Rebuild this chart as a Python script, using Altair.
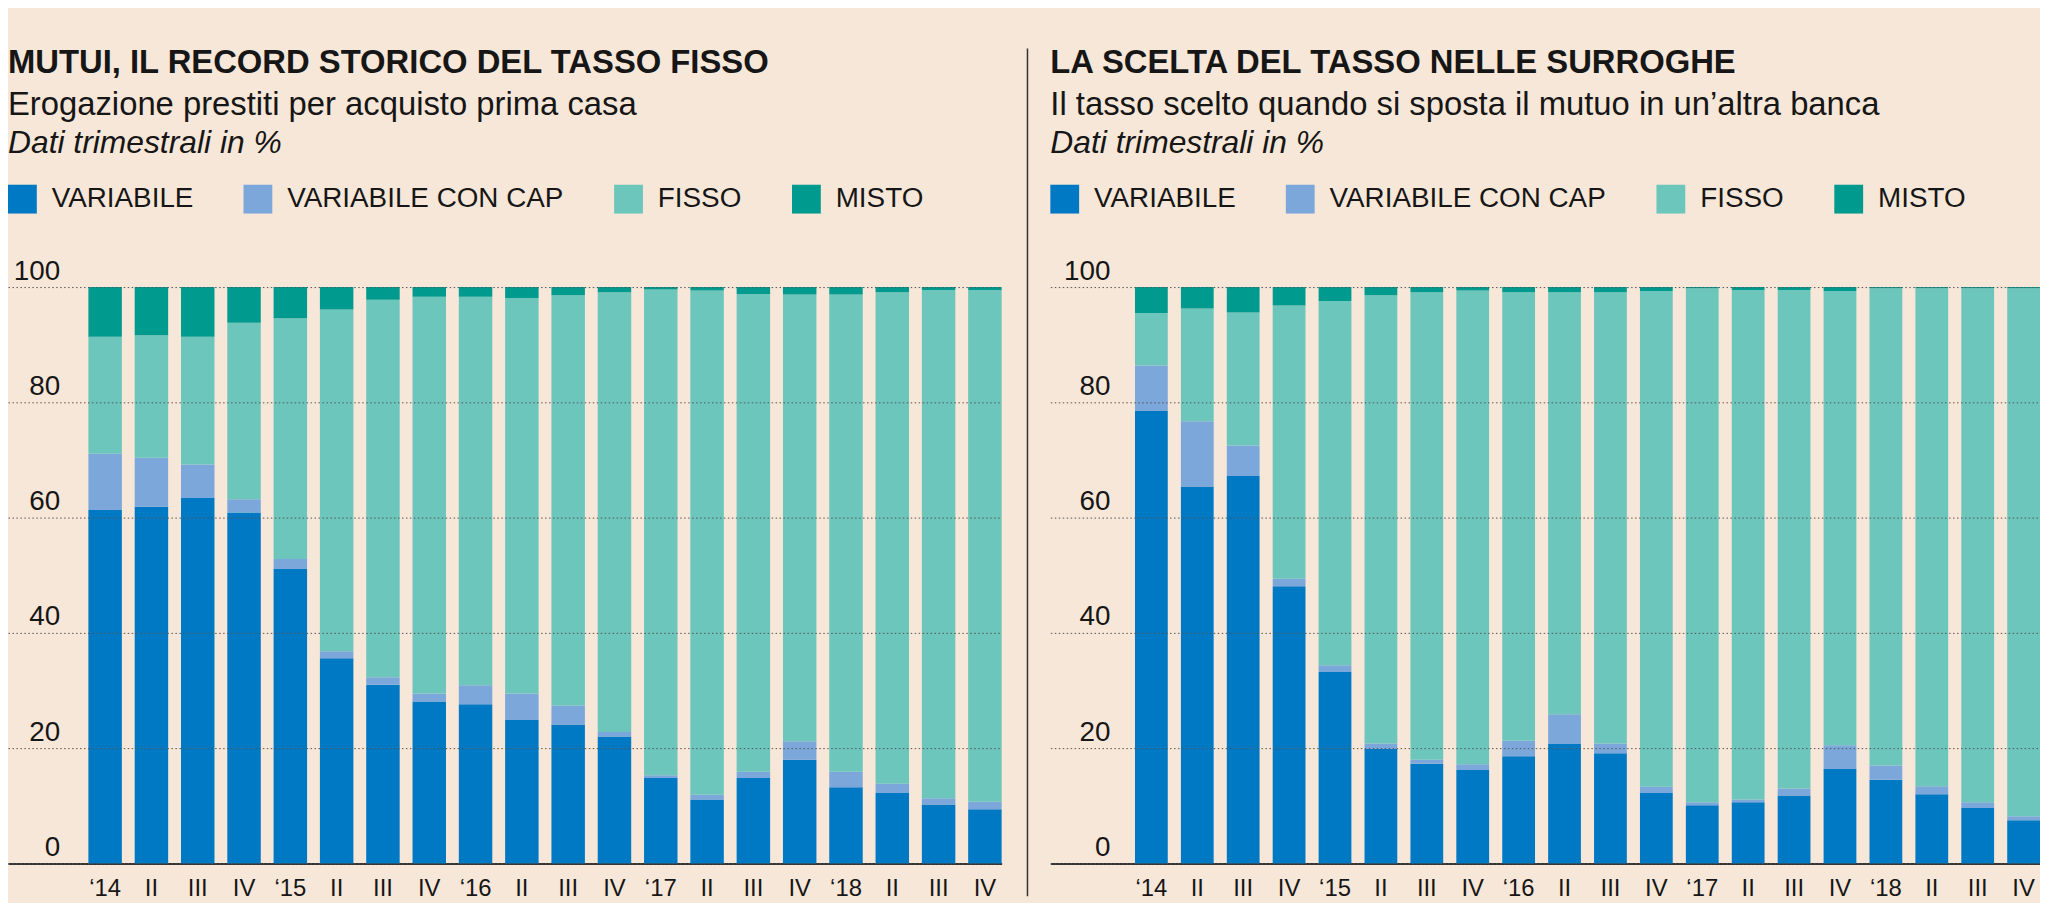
import altair as alt
import pandas as pd

# ---------------- data ----------------
periods = ["2014-I", "2014-II", "2014-III", "2014-IV",
           "2015-I", "2015-II", "2015-III", "2015-IV",
           "2016-I", "2016-II", "2016-III", "2016-IV",
           "2017-I", "2017-II", "2017-III", "2017-IV",
           "2018-I", "2018-II", "2018-III", "2018-IV"]
tick_labels = ["‘14", "II", "III", "IV", "‘15", "II", "III", "IV",
               "‘16", "II", "III", "IV", "‘17", "II", "III", "IV",
               "‘18", "II", "III", "IV"]

series = ["VARIABILE", "VARIABILE CON CAP", "FISSO", "MISTO"]
colors = ["#0079C4", "#7CA7DB", "#6CC6BC", "#009A8F"]

# Left panel: erogazione prestiti prima casa
mutui_variabile = [61.3, 61.9, 63.4, 60.9, 51.1, 35.6, 31.0, 28.1, 27.6, 24.9,
                   24.1, 22.0, 14.8, 11.1, 14.8, 18.0, 13.2, 12.2, 10.2, 9.4]
mutui_cap = [9.8, 8.5, 5.8, 2.3, 1.7, 1.2, 1.3, 1.4, 3.3, 4.6,
             3.3, 0.8, 0.5, 0.8, 1.1, 3.2, 2.7, 1.6, 1.1, 1.3]
mutui_fisso = [20.3, 21.25, 22.2, 30.6, 41.8, 59.3, 65.5, 68.8, 67.4, 68.6,
               71.2, 76.3, 84.3, 87.5, 82.9, 77.5, 82.8, 85.3, 88.2, 88.8]
mutui_misto = [8.6, 8.35, 8.6, 6.2, 5.4, 3.9, 2.2, 1.7, 1.7, 1.9,
               1.4, 0.9, 0.4, 0.6, 1.2, 1.3, 1.3, 0.9, 0.5, 0.5]

# Right panel: surroghe
surr_variabile = [78.6, 65.4, 67.2, 48.1, 33.2, 19.9, 17.3, 16.2, 18.6, 20.7,
                  19.1, 12.2, 10.1, 10.6, 11.8, 16.4, 14.5, 12.0, 9.6, 7.5]
surr_cap = [7.8, 11.3, 5.3, 1.3, 1.2, 0.9, 0.7, 1.0, 2.7, 5.2,
            1.7, 1.1, 0.5, 0.5, 1.2, 4.1, 2.5, 1.4, 1.0, 0.7]
surr_fisso = [9.1, 19.6, 23.1, 47.4, 63.2, 77.8, 81.1, 82.2, 77.8, 73.2,
              78.3, 86.0, 89.2, 88.4, 86.5, 78.8, 82.8, 86.4, 89.2, 91.6]
surr_misto = [4.5, 3.7, 4.4, 3.2, 2.4, 1.4, 0.9, 0.6, 0.9, 0.9,
              0.9, 0.7, 0.2, 0.5, 0.5, 0.7, 0.2, 0.2, 0.2, 0.2]


def long_df(var, cap, fix, mix):
    rows = []
    for i, p in enumerate(periods):
        for k, (name, vals) in enumerate(zip(series, [var, cap, fix, mix])):
            rows.append({"periodo": p, "tipo": name, "valore": vals[i], "ordine": k})
    return pd.DataFrame(rows)


df_mutui = long_df(mutui_variabile, mutui_cap, mutui_fisso, mutui_misto)
df_surr = long_df(surr_variabile, surr_cap, surr_fisso, surr_misto)

FONT = "Liberation Sans"
TXT = "#161616"

label_expr = ("[" + ",".join(f"'{t}'" for t in tick_labels) + "][indexof(["
              + ",".join(f"'{p}'" for p in periods) + "], datum.value)]")


def panel(df, title, subtitle, width, pad_inner, pad_outer, ylabel_pad):
    bars = alt.Chart(df).mark_bar().encode(
        x=alt.X("periodo:N",
                scale=alt.Scale(domain=periods, paddingInner=pad_inner,
                                paddingOuter=pad_outer, align=1, round=False),
                axis=alt.Axis(title=None, labelExpr=label_expr, labelAngle=0,
                              labelFont=FONT, labelFontSize=24, labelColor=TXT,
                              labelBaseline="alphabetic", labelPadding=32,
                              ticks=False, domain=True, domainColor="#333333",
                              domainWidth=2, grid=False, labelOverlap=False)),
        y=alt.Y("valore:Q", stack="zero",
                scale=alt.Scale(domain=[0, 100], nice=False),
                axis=alt.Axis(title=None, values=[0, 20, 40, 60, 80, 100],
                              domain=False, ticks=False, grid=True,
                              gridColor="#555555", gridDash=[1.5, 2.5], gridWidth=1,
                              labelFont=FONT, labelFontSize=28, labelColor=TXT,
                              labelAlign="right", labelBaseline="alphabetic",
                              labelPadding=ylabel_pad, labelOffset=-8, zindex=1)),
        color=alt.Color("tipo:N",
                        scale=alt.Scale(domain=series, range=colors),
                        legend=alt.Legend(orient="none", legendX=0, legendY=-160,
                                          direction="horizontal",
                                          title="Dati trimestrali in %",
                                          titleFont=FONT, titleFontSize=32,
                                          titleFontStyle="italic",
                                          titleFontWeight="normal",
                                          titleColor=TXT, titlePadding=25,
                                          titleLimit=800,
                                          symbolType="square", symbolSize=841,
                                          symbolStrokeWidth=0, symbolOpacity=1,
                                          labelFont=FONT, labelFontSize=28,
                                          labelColor=TXT, labelOffset=15,
                                          labelLimit=600, columnPadding=50)),
        order=alt.Order("ordine:Q", sort="ascending"),
    )
    return bars.properties(
        width=width, height=580,
        title=alt.TitleParams(text=title, subtitle=subtitle, anchor="start",
                              frame="group", orient="top",
                              font=FONT, fontSize=33, fontWeight="bold", color=TXT,
                              subtitleFont=FONT, subtitleFontSize=33,
                              subtitleColor=TXT, subtitlePadding=9, offset=6),
    )


left = panel(df_mutui, "MUTUI, IL RECORD STORICO DEL TASSO FISSO",
             "Erogazione prestiti per acquisto prima casa",
             1000, 0.277, 0.868, -52)

right = panel(df_surr, "LA SCELTA DEL TASSO NELLE SURROGHE",
              "Il tasso scelto quando si sposta il mutuo in un’altra banca",
              996, 0.286, 0.922, -60)

# thin separator column between the two panels
divider = alt.Chart(pd.DataFrame({"d": [0]})).mark_rule(
    color="#333333", strokeWidth=1.5
).encode(x=alt.value(4), y=alt.value(-240), y2=alt.value(613)).properties(
    width=4, height=580
)

chart = alt.hconcat(left, divider, right, spacing=22).resolve_scale(
    x="independent", y="independent", color="independent"
).resolve_legend(color="independent").configure(
    background="#F6E7D8",
    padding={"top": 37, "left": 0, "right": 0, "bottom": 0},
    font=FONT,
).configure_view(strokeWidth=0)

chart.save("out.html", embed_options={"renderer": "svg", "actions": False})
